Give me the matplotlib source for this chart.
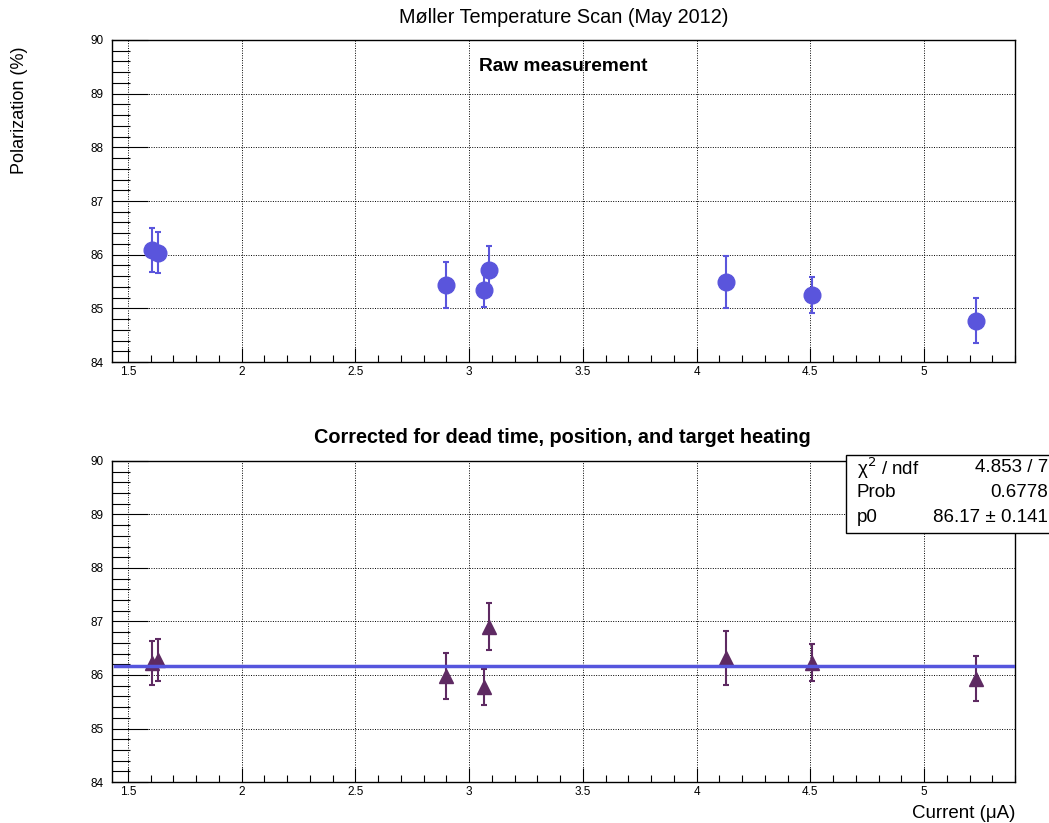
import numpy as np
import matplotlib
matplotlib.use("Agg")
import matplotlib.pyplot as plt
from matplotlib.ticker import MultipleLocator
from matplotlib.patches import Rectangle

plt.rcParams['font.family'] = ['Liberation Sans', 'DejaVu Sans']

# beam current (uA)
current = [1.605, 1.630, 2.899, 3.065, 3.089, 4.129, 4.506, 5.230]
# raw polarization (%)
raw_pol = [86.09, 86.04, 85.43, 85.35, 85.71, 85.49, 85.25, 84.77]
raw_err = [0.41, 0.39, 0.43, 0.33, 0.46, 0.49, 0.33, 0.42]
# corrected polarization (%)
cor_pol = [86.23, 86.28, 85.99, 85.77, 86.90, 86.32, 86.23, 85.93]
cor_err = [0.41, 0.40, 0.43, 0.34, 0.44, 0.50, 0.34, 0.42]
# constant fit
p0 = 86.17
fit_text = [("χ$^{2}$ / ndf", "4.853 / 7"), ("Prob", "0.6778"), ("p0", "86.17 ± 0.141")]

xlim = (1.43, 5.40)
ylim = (84, 90)

fig = plt.figure(figsize=[10.49, 8.23], dpi=100)
ax1 = fig.add_axes([0.1068, 0.5601, 0.8608, 0.3913])
ax2 = fig.add_axes([0.1068, 0.0498, 0.8608, 0.3901])


def root_style(ax):
    ax.set_xlim(*xlim)
    ax.set_ylim(*ylim)
    ax.xaxis.set_minor_locator(MultipleLocator(0.1))
    ax.yaxis.set_major_locator(MultipleLocator(1))
    ax.yaxis.set_minor_locator(MultipleLocator(0.2))
    ax.set_xticks(np.arange(1.5, 5.01, 0.5))
    ax.set_xticklabels(["1.5", "2", "2.5", "3", "3.5", "4", "4.5", "5"])
    ax.tick_params(which='both', direction='in', top=False, right=False, labelsize=8.5, width=0.8)
    ax.tick_params(axis='y', which='major', length=26, pad=6)
    ax.tick_params(axis='y', which='minor', length=13)
    ax.tick_params(axis='x', which='major', length=10, pad=3)
    ax.tick_params(axis='x', which='minor', length=5)
    ax.grid(True, which='major', color='black', linestyle=(0, (1, 1.5)), linewidth=0.7)
    ax.set_axisbelow(True)
    for s in ax.spines.values():
        s.set_linewidth(1.0)


root_style(ax1)
root_style(ax2)

ax1.errorbar(current, raw_pol, yerr=raw_err, fmt='o', color='#5a55dc', markersize=12,
             elinewidth=1.5, capsize=2, capthick=1.5, zorder=3)
ax1.text(0.5, 0.945, "Raw measurement", transform=ax1.transAxes, ha='center', va='top',
         fontsize=13.8, fontweight='bold')

ax2.errorbar(current, cor_pol, yerr=cor_err, fmt='^', color='#5e2a62', markersize=10.5,
             elinewidth=1.5, capsize=2, capthick=1.5, zorder=3)
ax2.plot([1.445, 5.39], [p0, p0], color='#5555dd', linewidth=2.5, zorder=4)

fig.text(0.537, 0.979, "Møller Temperature Scan (May 2012)", ha='center', va='center', fontsize=14.3)
fig.text(0.5365, 0.468, "Corrected for dead time, position, and target heating", ha='center',
         va='center', fontsize=14.3, fontweight='bold')
fig.text(0.019, 0.866, "Polarization (%)", rotation=90, ha='center', va='center', fontsize=13)
fig.text(0.9676, 0.011, "Current (μA)", ha='right', va='center', fontsize=13.5)

# stats box
box = Rectangle((846 / 1049, 1 - 533 / 823), 0.25, 78 / 823, transform=fig.transFigure,
                facecolor='white', edgecolor='black', linewidth=1.0, zorder=5, clip_on=False)
fig.patches.append(box)
for i, (lab, val) in enumerate(fit_text):
    yy = 1 - (468 + i * 24.5) / 823
    fig.text(857 / 1049, yy, lab, ha='left', va='center', fontsize=13.5, zorder=6)
    fig.text(1048 / 1049, yy, val, ha='right', va='center', fontsize=13.5, zorder=6)

plt.savefig('out.png', dpi=100)
